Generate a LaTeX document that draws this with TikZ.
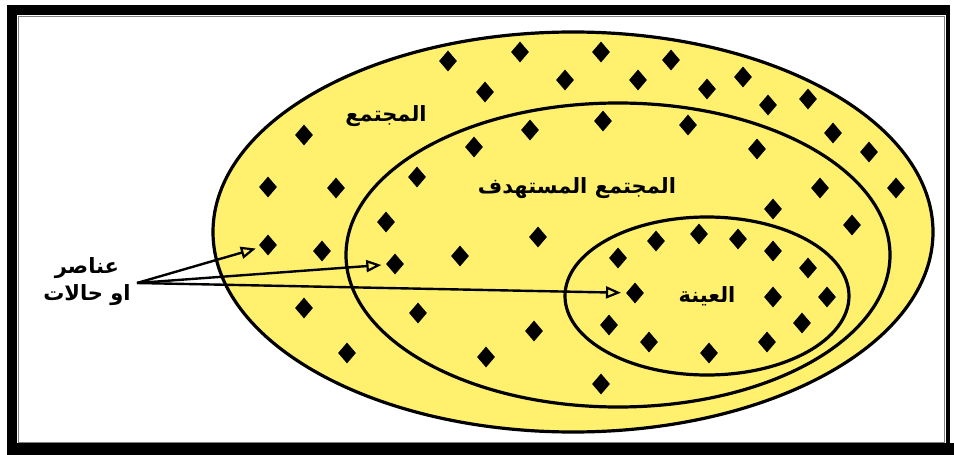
\documentclass[tikz,border=0pt]{standalone}
\usepackage{fontspec}
\newfontfamily\arabicfont[Script=Arabic]{DejaVu Sans}
\TeXXeTstate=1
\usetikzlibrary{arrows.meta,shapes.geometric}
\definecolor{popyellow}{RGB}{255,240,110}

\begin{document}
\begin{tikzpicture}[x=1pt, y=-1pt,
  dot/.style={diamond, fill=black, inner sep=0pt, minimum width=18pt, minimum height=21pt},
  ring/.style={draw, line width=3.2pt},
  lbl/.style={font=\arabicfont\bfseries\fontsize{21}{27}\selectfont, align=center, inner sep=0pt},
  pointer/.style={-{Triangle[open, length=15pt, width=12pt, line width=2.2pt]}, line width=2.4pt, shorten >=5pt}
]
\useasboundingbox (0,0) rectangle (954,455);
% frame
\fill[white] (0,0) rectangle (954,455);
\fill[black] (7,5) rectangle (17,455);
\fill[black] (7,5) rectangle (947,15);
\fill[black] (7,443) rectangle (954,455);
\fill[black] (946,5) rectangle (950,455);
\draw[gray, line width=1pt] (18,16) rectangle (944,442);

% populations
\draw[ring, fill=popyellow] (573,232) ellipse [x radius=360, y radius=200];
\draw[ring] (618,255) ellipse [x radius=272, y radius=152];
\draw[ring] (707,296) ellipse [x radius=142, y radius=79];

% elements
\foreach \x/\y [count=\i] in {448/61, 520/52, 601/52, 671/60, 565/80, 638/80, 485/92,
    707/89, 743/77, 768/105, 808/99, 833/133, 869/152, 896/188, 304/135, 268/187,
    336/188, 322/251, 304/308, 347/353,
    530/130, 603/121, 688/125, 474/147, 757/149, 417/177, 820/188, 773/209, 386/222,
    538/237, 460/256, 418/313, 534/331, 486/357, 601/384, 852/225,
    656/241, 699/234, 738/239, 773/251, 618/258, 808/268, 773/297, 827/297,
    609/325, 802/323, 649/342, 709/353, 767/342}
  \node[dot] (d\i) at (\x,\y) {};
\node[dot] (elemA) at (268,245) {};
\node[dot] (elemB) at (395,264) {};
\node[dot] (elemC) at (635,293) {};

% labels
\node[lbl] (pop) at (386,116) {\beginR المجتمع\endR};
\node[lbl] (target) at (577,188) {\beginR المجتمع المستهدف\endR};
\node[lbl] (sample) at (707,296) {\beginR العينة\endR};
\node[lbl] (units) at (87,282) {\beginR عناصر\endR\\\beginR او حالات\endR};

\coordinate (src) at (137,283);
\draw[pointer] (src) -- (elemA);
\draw[pointer] (src) -- (elemB);
\draw[pointer] (src) -- (elemC);
\end{tikzpicture}
\end{document}
